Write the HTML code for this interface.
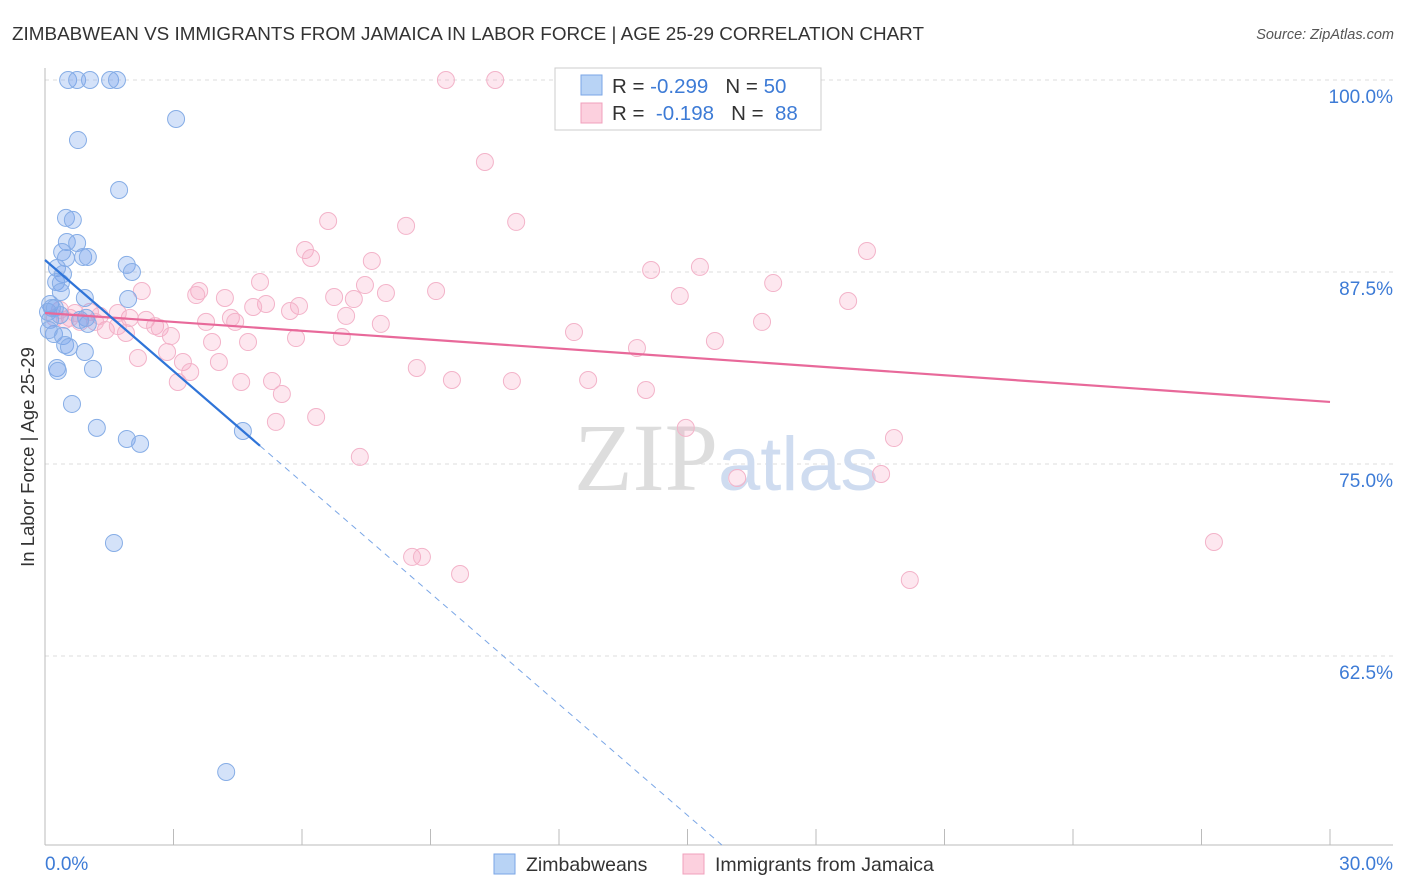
<!DOCTYPE html>
<html><head><meta charset="utf-8">
<style>
body{margin:0;background:#fff;font-family:"Liberation Sans",sans-serif;}
svg{display:block}
</style></head>
<body>
<svg id="chart" width="1406" height="892">
<text x="12" y="40" font-size="18" fill="#333" textLength="912" lengthAdjust="spacingAndGlyphs">ZIMBABWEAN VS IMMIGRANTS FROM JAMAICA IN LABOR FORCE | AGE 25-29 CORRELATION CHART</text>
<text x="1394" y="39" font-size="14.5" fill="#555" text-anchor="end" font-style="italic">Source: ZipAtlas.com</text>
<text transform="translate(34,457) rotate(-90)" font-size="18.5" fill="#333" text-anchor="middle">In Labor Force | Age 25-29</text>
<g id="grid"></g>
<text x="718" y="490" font-size="96" fill="#ddd" text-anchor="end" font-family="Liberation Serif,serif">ZIP</text>
<text x="718" y="490" font-size="76" fill="#cfdcf0">atlas</text>
<g id="marks"></g>
<g>
<rect x="555" y="68" width="266" height="62" fill="#fff" stroke="#ccc"/>
<rect x="581" y="75" width="21" height="20" fill="#b8d3f5" stroke="#7aa6e6"/>
<rect x="581" y="103" width="21" height="20" fill="#fcd0de" stroke="#f0a0bc"/>
<text x="612" y="93" font-size="20.5" fill="#333">R = <tspan fill="#3d7bd6">-0.299</tspan>&#160;&#160;&#160;N = <tspan fill="#3d7bd6">50</tspan></text>
<text x="612" y="120" font-size="20.5" fill="#333">R = &#160;<tspan fill="#3d7bd6">-0.198</tspan>&#160;&#160;&#160;N = &#160;<tspan fill="#3d7bd6">88</tspan></text>
</g>
<text x="45" y="870" font-size="19" fill="#3d7bd6">0.0%</text>
<text x="1393" y="870" font-size="19" fill="#3d7bd6" text-anchor="end">30.0%</text>
<rect x="494" y="854" width="21" height="20" fill="#b8d3f5" stroke="#7aa6e6"/>
<text x="526" y="871" font-size="19.5" fill="#333">Zimbabweans</text>
<rect x="683" y="854" width="21" height="20" fill="#fcd0de" stroke="#f0a0bc"/>
<text x="715" y="871" font-size="19.5" fill="#333">Immigrants from Jamaica</text>
</svg>
<script>
const yTicks=[100,87.5,75,62.5];
const yTickLabels=["100.0%","87.5%","75.0%","62.5%"];
const xTicks=[3,6,9,12,15,18,21,24,27,30];
const blueX=[0.54,0.75,1.05,1.52,1.68,3.06,0.77,1.73,0.49,0.65,0.51,0.75,0.40,0.49,0.89,1.00,1.91,2.03,0.28,0.42,0.26,0.37,0.37,0.93,1.94,0.12,0.16,0.07,0.96,1.00,0.21,0.42,0.47,0.56,0.93,0.28,0.30,1.12,0.63,1.21,1.91,2.22,4.62,1.61,4.23,0.12,0.23,0.82,0.35,0.09];
const blueY=[100,100,100,100,100,97.46,96.09,92.84,91.02,90.89,89.45,89.39,88.80,88.41,88.48,88.48,87.96,87.50,87.76,87.37,86.85,86.78,86.20,85.81,85.74,85.42,85.16,84.90,84.51,84.12,83.46,83.33,82.75,82.62,82.29,81.25,81.06,81.19,78.91,77.35,76.63,76.31,77.15,69.86,54.95,84.38,85.16,84.38,84.70,83.72];
const pinkX=[9.36,10.51,12.40,10.27,6.61,8.43,11.00,6.07,6.21,7.63,19.19,14.15,15.29,5.02,3.60,3.53,2.26,4.20,5.16,4.86,5.93,5.72,6.75,7.21,7.47,7.96,9.13,14.82,17.00,18.75,16.74,12.35,15.64,13.82,4.34,4.44,3.76,2.36,2.57,2.68,1.98,1.42,1.70,1.89,2.94,5.86,6.93,7.84,7.03,3.90,4.74,2.85,2.17,3.22,4.06,3.39,3.10,4.58,5.30,5.53,8.68,9.50,10.90,12.68,14.03,5.39,6.33,7.35,14.96,19.82,19.52,16.16,8.57,8.80,9.69,20.19,27.29,0.35,0.58,0.82,1.05,1.28,0.23,0.70,0.47,1.17,1.70];
const pinkY=[100,100,100,94.66,90.82,90.50,90.76,88.93,88.41,88.22,88.87,87.63,87.83,86.85,86.26,86.00,86.26,85.81,85.42,85.22,85.29,84.96,85.87,85.74,86.65,86.13,86.26,85.94,86.78,85.61,84.25,83.59,83.01,82.55,84.51,84.25,84.25,84.38,83.98,83.85,84.51,83.72,83.98,83.53,83.33,83.20,83.27,84.12,84.64,82.94,82.94,82.29,81.90,81.64,81.64,80.99,80.34,80.34,80.40,79.56,81.25,80.47,80.40,80.47,79.82,77.74,78.06,75.46,77.35,76.69,74.35,74.09,68.95,68.95,67.84,67.45,69.92,85.03,84.51,84.25,84.90,84.64,84.51,84.83,84.38,84.25,84.83];
const blueTrend=[88.28,-2.41];
const blueSolidEnd=5.02;
const pinkTrend=[84.83,-0.193];

const NS="http://www.w3.org/2000/svg";
const X0=45,X1=1330,YT=80,YB=845;
function sx(v){return X0+(v/30)*(X1-X0);}
function sy(v){return YT+(100-v)*15.36;}
function mk(tag,attrs,parent){const e=document.createElementNS(NS,tag);for(const k in attrs)e.setAttribute(k,attrs[k]);parent.appendChild(e);return e;}
const grid=document.getElementById('grid'),marks=document.getElementById('marks');
yTicks.forEach((t,i)=>{
 const l=mk('line',{x1:X0,x2:1393,y1:sy(t),y2:sy(t),stroke:'#ddd','stroke-dasharray':'4,4'},grid);
 
 
 const tx=mk('text',{x:1393,y:sy(t)+23,'font-size':19,fill:'#3d7bd6','text-anchor':'end'},grid);
 tx.textContent=yTickLabels[i];
 
 
});
const ax=mk('line',{x1:X0,x2:X0,y1:68,y2:YB,stroke:'#bbb'},grid);


const bx=mk('line',{x1:X0,x2:1393,y1:YB,y2:YB,stroke:'#bbb'},grid);


xTicks.forEach(t=>{
 const l=mk('line',{x1:sx(t),x2:sx(t),y1:829,y2:YB,stroke:'#bbb'},grid);
 
 
});
pinkX.forEach((v,i)=>{
 const c=mk('circle',{cx:sx(v),cy:sy(pinkY[i]),r:8.5,fill:'rgba(246,160,190,0.25)',stroke:'#f3b3c9','stroke-width':1},marks);
 
 
});
blueX.forEach((v,i)=>{
 const c=mk('circle',{cx:sx(v),cy:sy(blueY[i]),r:8.5,fill:'rgba(120,165,235,0.32)',stroke:'#86ade6','stroke-width':1},marks);
 
 
});
const pl=mk('line',{x1:sx(0),y1:sy(pinkTrend[0]),x2:sx(30),y2:sy(pinkTrend[0]+pinkTrend[1]*30),stroke:'#e8699a','stroke-width':2.2},marks);


const bl=mk('line',{x1:sx(0),y1:sy(blueTrend[0]),x2:sx(blueSolidEnd),y2:sy(blueTrend[0]+blueTrend[1]*blueSolidEnd),stroke:'#2f74d8','stroke-width':2.2},marks);


const yBottom=100-(YB-YT)/15.36;
const xEnd=(yBottom-blueTrend[0])/blueTrend[1];
const bd=mk('line',{x1:sx(blueSolidEnd),y1:sy(blueTrend[0]+blueTrend[1]*blueSolidEnd),x2:sx(xEnd),y2:sy(yBottom),stroke:'#7aa6e6','stroke-width':1,'stroke-dasharray':'6,5'},marks);


</script>
</body></html>
